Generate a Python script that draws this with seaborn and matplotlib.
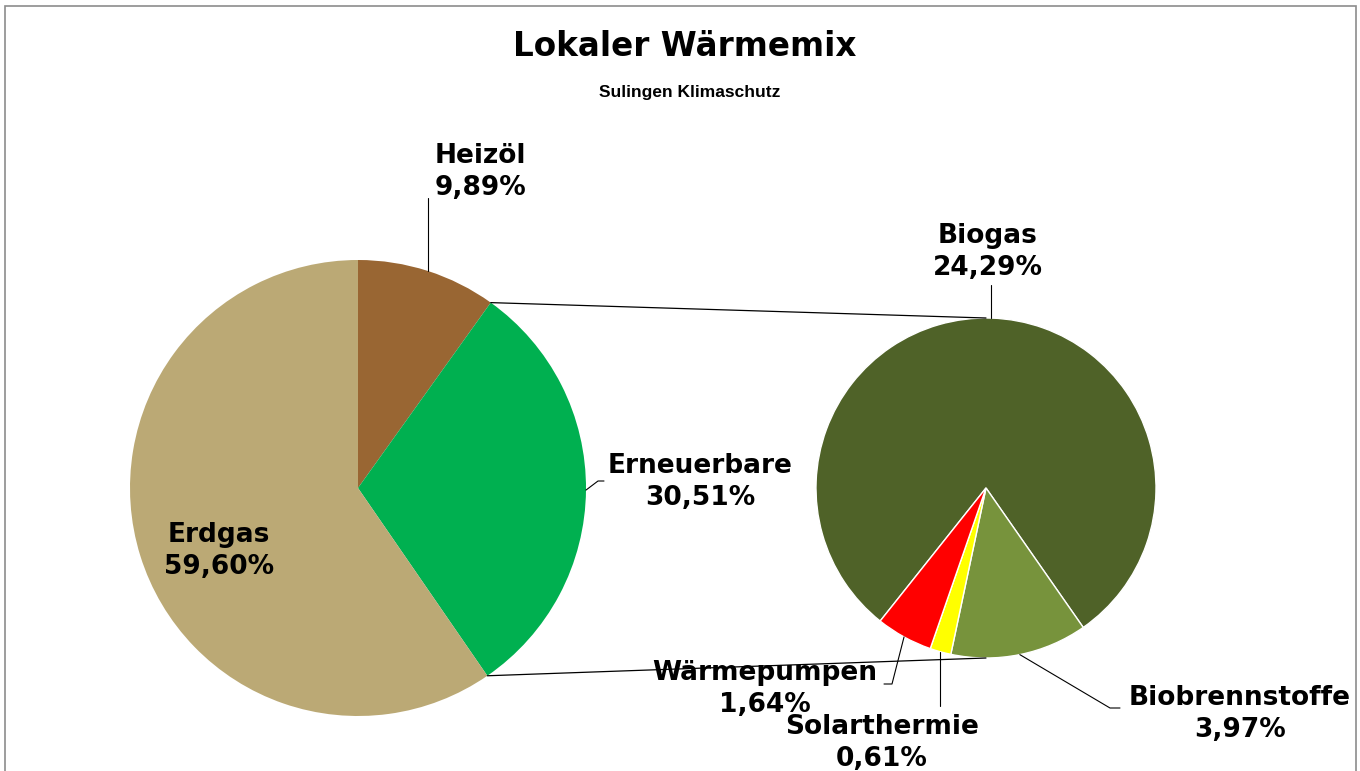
import numpy as np
import matplotlib
matplotlib.use('Agg')
import matplotlib.pyplot as plt
import seaborn as sns
from matplotlib.patches import Rectangle

# Daten
haupt_labels = ['Heizöl', 'Erneuerbare', 'Erdgas']
haupt_werte = [9.89, 30.51, 59.60]
haupt_farben = ['#996633', '#00B050', '#BBA975']

neben_labels = ['Biogas', 'Biobrennstoffe', 'Solarthermie', 'Wärmepumpen']
neben_werte = [24.29, 3.97, 0.61, 1.64]
neben_farben = ['#4F6228', '#77933C', '#FFFF00', '#FF0000']

titel = 'Lokaler Wärmemix'
untertitel = 'Sulingen Klimaschutz'

sns.set_theme(style='white')
plt.rcParams['font.family'] = ['DejaVu Sans']
plt.rcParams['text.color'] = 'black'

B, H = 1360, 771


def py(y):
    # Pixelzeile (von oben) -> Datenkoordinate
    return H - y


def fmt(v):
    return f'{v:.2f}%'.replace('.', ',')


def rand(c, r, deg):
    t = np.deg2rad(deg)
    return c[0] + r * np.cos(t), c[1] + r * np.sin(t)


fig = plt.figure(figsize=(B / 100, H / 100), dpi=100)
ax = fig.add_axes([0, 0, 1, 1])

c1, r1 = (358, py(488)), 228
c2, r2 = (986, py(488)), 170

w1, _ = ax.pie(haupt_werte, colors=haupt_farben, startangle=90, counterclock=False,
               center=c1, radius=r1, frame=True,
               wedgeprops=dict(linewidth=0))
w2, _ = ax.pie(neben_werte, colors=neben_farben, startangle=231.5, counterclock=False,
               center=c2, radius=r2, frame=True,
               wedgeprops=dict(edgecolor='white', linewidth=1))

ax.set_xlim(0, B)
ax.set_ylim(0, H)
ax.set_aspect('equal')
ax.axis('off')

# Verbindungslinien zwischen den Kreisen
ern = w1[1]
p_oben = rand(c1, r1, ern.theta2)
p_unten = rand(c1, r1, ern.theta1)
ax.plot([p_oben[0], c2[0]], [p_oben[1], c2[1] + r2], color='black', lw=0.9)
ax.plot([p_unten[0], c2[0]], [p_unten[1], c2[1] - r2], color='black', lw=0.9)

txt = dict(fontsize=19, fontweight='bold', color='black', ha='center', va='center',
           linespacing=1.3)


def mitte(w):
    return (w.theta1 + w.theta2) / 2


# Hauptkreis-Beschriftungen
s = rand(c1, r1, mitte(w1[0]))
ax.plot([s[0], s[0]], [s[1], py(198)], color='black', lw=0.8)
ax.text(480, py(172), f'{haupt_labels[0]}\n{fmt(haupt_werte[0])}', **txt)

s = rand(c1, r1, mitte(w1[1]))
ax.plot([s[0], 598, 604], [s[1], py(481), py(481)], color='black', lw=0.8)
ax.text(700, py(482), f'{haupt_labels[1]}\n{fmt(haupt_werte[1])}', **txt)

ax.text(219, py(551), f'{haupt_labels[2]}\n{fmt(haupt_werte[2])}', **txt)

# Nebenkreis-Beschriftungen
s = rand(c2, r2, mitte(w2[0]))
ax.plot([s[0], s[0]], [s[1], py(285)], color='black', lw=0.8)
ax.text(988, py(252), f'{neben_labels[0]}\n{fmt(neben_werte[0])}', **txt)

s = rand(c2, r2, mitte(w2[1]))
ax.plot([s[0], 1110, 1120], [s[1], py(708), py(708)], color='black', lw=0.8)
ax.text(1240, py(714), f'{neben_labels[1]}\n{fmt(neben_werte[1])}', **txt)

s = rand(c2, r2, mitte(w2[2]))
ax.plot([s[0], s[0]], [s[1], py(706)], color='black', lw=0.8)
ax.text(882, py(743), f'{neben_labels[2]}\n{fmt(neben_werte[2])}', **txt)

s = rand(c2, r2, mitte(w2[3]))
ax.plot([s[0], 892, 884], [s[1], py(684), py(684)], color='black', lw=0.8)
ax.text(765, py(689), f'{neben_labels[3]}\n{fmt(neben_werte[3])}', **txt)

# Titel
ax.text(685, py(46), titel, fontsize=23.5, fontweight='bold', color='black',
        ha='center', va='center')
ax.text(690, py(92), untertitel, fontsize=12.5, fontweight='bold', color='black',
        ha='center', va='center', family=['Liberation Sans', 'DejaVu Sans'])

# Rahmen
fig.add_artist(Rectangle((5 / B, -0.02), 1351 / B, (H - 6) / H + 0.02,
                         transform=fig.transFigure, fill=False, ec='#8C8C8C', lw=1.2))

fig.savefig('out.png', dpi=100, facecolor='white')
